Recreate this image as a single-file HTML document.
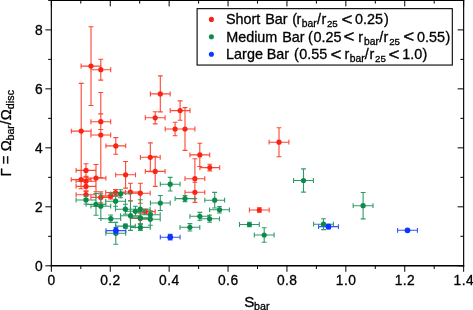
<!DOCTYPE html>
<html><head><meta charset="utf-8"><title>Gamma vs S_bar</title>
<style>
html,body{margin:0;padding:0;background:#fff;}
svg{display:block;}
svg{font-family:"Liberation Sans",Arial,Helvetica,sans-serif;font-size:14px;}
text{fill:#000;stroke:#000;stroke-width:0.3px;}
.sub{font-size:9.8px;}
</style></head>
<body>
<svg width="473" height="310" viewBox="0 0 473 310">
<rect width="473" height="310" fill="#fff"/>
<g id="points">
<path d="M81.1 66.1H100.9M91.0 26.7V105.5M81.1 63.6V68.5M100.9 63.6V68.5M88.5 26.7H93.5M88.5 105.5H93.5M90.9 69.7H110.7M100.8 59.3V80.1M90.9 67.2V72.2M110.7 67.2V72.2M98.3 59.3H103.2M98.3 80.1H103.2M71.3 131.1H91.1M81.2 83.4V178.8M71.3 128.7V133.5M91.1 128.7V133.5M78.8 83.4H83.7M78.8 178.8H83.7M90.9 121.7H110.7M100.8 113.9V129.5M90.9 119.2V124.2M110.7 119.2V124.2M98.3 113.9H103.2M98.3 129.5H103.2M90.9 135.0H110.7M100.8 92.5V177.5M90.9 132.6V137.4M110.7 132.6V137.4M98.3 92.5H103.2M98.3 177.5H103.2M105.9 145.9H125.7M115.8 137.6V154.2M105.9 143.5V148.3M125.7 143.5V148.3M113.3 137.6H118.2M113.3 154.2H118.2M115.7 174.8H135.5M125.6 161.5V188.1M115.7 172.4V177.2M135.5 172.4V177.2M123.1 161.5H128.0M123.1 188.1H128.0M76.1 170.4H95.9M86.0 163.7V177.1M76.1 168.0V172.8M95.9 168.0V172.8M83.5 163.7H88.5M83.5 177.1H88.5M71.2 179.6H91.0M81.1 170.4V188.8M71.2 177.2V182.0M91.0 177.2V182.0M78.6 170.4H83.5M78.6 188.8H83.5M76.1 181.2H95.9M86.0 176.2V186.2M76.1 178.8V183.6M95.9 178.8V183.6M83.5 176.2H88.5M83.5 186.2H88.5M86.1 178.1H105.9M96.0 164.5V191.7M86.1 175.7V180.5M105.9 175.7V180.5M93.5 164.5H98.5M93.5 191.7H98.5M76.1 186.4H95.9M86.0 181.4V191.4M76.1 184.0V188.8M95.9 184.0V188.8M83.5 181.4H88.5M83.5 191.4H88.5M76.1 194.7H95.9M86.0 190.7V198.7M76.1 192.2V197.1M95.9 192.2V197.1M83.5 190.7H88.5M83.5 198.7H88.5M90.9 197.4H110.7M100.8 191.9V202.9M90.9 195.0V199.8M110.7 195.0V199.8M98.3 191.9H103.2M98.3 202.9H103.2M100.8 195.9H120.6M110.7 192.9V198.9M100.8 193.5V198.3M120.6 193.5V198.3M108.2 192.9H113.2M108.2 198.9H113.2M105.7 192.5H125.5M115.6 189.5V195.5M105.7 190.1V194.9M125.5 190.1V194.9M113.1 189.5H118.0M113.1 195.5H118.0M120.5 192.0H140.3M130.4 183.3V200.7M120.5 189.6V194.4M140.3 189.6V194.4M128.0 183.3H132.8M128.0 200.7H132.8M130.4 193.2H150.2M140.3 183.2V203.2M130.4 190.8V195.6M150.2 190.8V195.6M137.9 183.2H142.8M137.9 203.2H142.8M135.4 211.6H155.2M145.3 209.1V214.1M135.4 209.2V214.0M155.2 209.2V214.0M142.9 209.1H147.8M142.9 214.1H147.8M130.4 218.4H150.2M140.3 213.1V223.7M130.4 216.0V220.8M150.2 216.0V220.8M137.9 213.1H142.8M137.9 223.7H142.8M140.4 157.3H160.2M150.3 142.9V171.7M140.4 154.9V159.8M160.2 154.9V159.8M147.9 142.9H152.8M147.9 171.7H152.8M145.3 171.4H165.1M155.2 156.4V186.4M145.3 169.0V173.8M165.1 169.0V173.8M152.8 156.4H157.6M152.8 186.4H157.6M145.3 117.8H165.1M155.2 111.7V123.9M145.3 115.3V120.2M165.1 115.3V120.2M152.8 111.7H157.6M152.8 123.9H157.6M165.2 129.0H185.0M175.1 122.2V135.8M165.2 126.5V131.4M185.0 126.5V131.4M172.7 122.2H177.5M172.7 135.8H177.5M170.2 110.6H190.0M180.1 100.9V120.3M170.2 108.1V113.0M190.0 108.1V113.0M177.7 100.9H182.5M177.7 120.3H182.5M150.4 93.9H170.2M160.3 75.9V111.9M150.4 91.5V96.4M170.2 91.5V96.4M157.9 75.9H162.8M157.9 111.9H162.8M175.1 129.0H194.9M185.0 107.6V150.4M175.1 126.5V131.4M194.9 126.5V131.4M182.6 107.6H187.4M182.6 150.4H187.4M189.9 154.9H209.7M199.8 143.3V166.5M189.9 152.5V157.3M209.7 152.5V157.3M197.4 143.3H202.2M197.4 166.5H202.2M199.9 167.6H219.7M209.8 164.3V170.9M199.9 165.2V170.0M219.7 165.2V170.0M207.4 164.3H212.2M207.4 170.9H212.2M185.0 178.7H204.8M194.9 158.8V198.6M185.0 176.2V181.1M204.8 176.2V181.1M192.5 158.8H197.3M192.5 198.6H197.3M185.0 192.3H204.8M194.9 182.2V202.4M185.0 189.9V194.8M204.8 189.9V194.8M192.5 182.2H197.3M192.5 202.4H197.3M269.1 142.2H288.9M279.0 127.7V156.7M269.1 139.8V144.6M288.9 139.8V144.6M276.6 127.7H281.4M276.6 156.7H281.4M249.4 210.0H269.2M259.3 207.7V212.3M249.4 207.6V212.4M269.2 207.6V212.4M256.9 207.7H261.8M256.9 212.3H261.8" stroke="#fd4634" stroke-width="1.1" fill="none"/>
<g fill="#fa2414"><circle cx="91.0" cy="66.1" r="2.6"/><circle cx="100.8" cy="69.7" r="2.6"/><circle cx="81.2" cy="131.1" r="2.6"/><circle cx="100.8" cy="121.7" r="2.6"/><circle cx="100.8" cy="135.0" r="2.6"/><circle cx="115.8" cy="145.9" r="2.6"/><circle cx="125.6" cy="174.8" r="2.6"/><circle cx="86.0" cy="170.4" r="2.6"/><circle cx="81.1" cy="179.6" r="2.6"/><circle cx="86.0" cy="181.2" r="2.6"/><circle cx="96.0" cy="178.1" r="2.6"/><circle cx="86.0" cy="186.4" r="2.6"/><circle cx="86.0" cy="194.7" r="2.6"/><circle cx="100.8" cy="197.4" r="2.6"/><circle cx="110.7" cy="195.9" r="2.6"/><circle cx="115.6" cy="192.5" r="2.6"/><circle cx="130.4" cy="192.0" r="2.6"/><circle cx="140.3" cy="193.2" r="2.6"/><circle cx="145.3" cy="211.6" r="2.6"/><circle cx="140.3" cy="218.4" r="2.6"/><circle cx="150.3" cy="157.3" r="2.6"/><circle cx="155.2" cy="171.4" r="2.6"/><circle cx="155.2" cy="117.8" r="2.6"/><circle cx="175.1" cy="129.0" r="2.6"/><circle cx="180.1" cy="110.6" r="2.6"/><circle cx="160.3" cy="93.9" r="2.6"/><circle cx="185.0" cy="129.0" r="2.6"/><circle cx="199.8" cy="154.9" r="2.6"/><circle cx="209.8" cy="167.6" r="2.6"/><circle cx="194.9" cy="178.7" r="2.6"/><circle cx="194.9" cy="192.3" r="2.6"/><circle cx="279.0" cy="142.2" r="2.6"/><circle cx="259.3" cy="210.0" r="2.6"/></g>
<path d="M76.1 200.0H95.9M86.0 196.0V204.0M76.1 197.6V202.4M95.9 197.6V202.4M83.5 196.0H88.5M83.5 204.0H88.5M86.1 204.4H105.9M96.0 193.5V215.3M86.1 202.0V206.8M105.9 202.0V206.8M93.5 193.5H98.5M93.5 215.3H98.5M90.9 206.2H110.7M100.8 193.9V218.5M90.9 203.8V208.6M110.7 203.8V208.6M98.3 193.9H103.2M98.3 218.5H103.2M110.7 193.8H130.5M120.6 189.8V197.8M110.7 191.4V196.2M130.5 191.4V196.2M118.1 189.8H123.0M118.1 197.8H123.0M105.7 201.2H125.5M115.6 196.2V206.2M105.7 198.8V203.6M125.5 198.8V203.6M113.1 196.2H118.0M113.1 206.2H118.0M115.5 209.2H135.3M125.4 204.2V214.2M115.5 206.8V211.6M135.3 206.8V211.6M123.0 204.2H127.9M123.0 214.2H127.9M120.6 215.7H140.4M130.5 201.0V230.4M120.6 213.2V218.1M140.4 213.2V218.1M128.1 201.0H132.9M128.1 230.4H132.9M100.9 218.7H120.7M110.8 215.0V222.4M100.9 216.2V221.1M120.7 216.2V221.1M108.3 215.0H113.2M108.3 222.4H113.2M115.5 226.1H135.3M125.4 224.1V228.1M115.5 223.7V228.5M135.3 223.7V228.5M123.0 224.1H127.9M123.0 228.1H127.9M105.9 233.3H125.7M115.8 222.4V244.2M105.9 230.9V235.8M125.7 230.9V235.8M113.3 222.4H118.2M113.3 244.2H118.2M150.4 203.0H170.2M160.3 195.5V210.5M150.4 200.6V205.4M170.2 200.6V205.4M157.9 195.5H162.8M157.9 210.5H162.8M125.5 211.3H145.3M135.4 206.3V216.3M125.5 208.9V213.8M145.3 208.9V213.8M133.0 206.3H137.8M133.0 216.3H137.8M130.4 209.2H150.2M140.3 199.7V218.7M130.4 206.8V211.6M150.2 206.8V211.6M137.9 199.7H142.8M137.9 218.7H142.8M130.4 217.9H150.2M140.3 211.9V223.9M130.4 215.5V220.3M150.2 215.5V220.3M137.9 211.9H142.8M137.9 223.9H142.8M140.4 214.7H160.2M150.3 210.7V218.7M140.4 212.2V217.1M160.2 212.2V217.1M147.9 210.7H152.8M147.9 218.7H152.8M140.4 219.2H160.2M150.3 213.2V225.2M140.4 216.8V221.6M160.2 216.8V221.6M147.9 213.2H152.8M147.9 225.2H152.8M160.3 184.2H180.1M170.2 177.4V191.0M160.3 181.8V186.6M180.1 181.8V186.6M167.8 177.4H172.6M167.8 191.0H172.6M175.1 198.6H194.9M185.0 195.6V201.6M175.1 196.2V201.0M194.9 196.2V201.0M182.6 195.6H187.4M182.6 201.6H187.4M204.8 200.2H224.6M214.7 192.4V208.0M204.8 197.8V202.6M224.6 197.8V202.6M212.2 192.4H217.1M212.2 208.0H217.1M209.6 209.8H229.4M219.5 206.6V213.0M209.6 207.4V212.2M229.4 207.4V212.2M217.1 206.6H221.9M217.1 213.0H221.9M189.9 216.3H209.7M199.8 212.4V220.2M189.9 213.9V218.8M209.7 213.9V218.8M197.4 212.4H202.2M197.4 220.2H202.2M199.7 218.8H219.5M209.6 215.3V222.3M199.7 216.4V221.2M219.5 216.4V221.2M207.2 215.3H212.0M207.2 222.3H212.0M180.0 227.3H199.8M189.9 223.6V231.0M180.0 224.9V229.8M199.8 224.9V229.8M187.5 223.6H192.3M187.5 231.0H192.3M130.5 227.4H150.3M140.4 224.4V230.4M130.5 225.0V229.8M150.3 225.0V229.8M138.0 224.4H142.8M138.0 230.4H142.8M293.6 180.5H313.4M303.5 168.9V192.1M293.6 178.1V182.9M313.4 178.1V182.9M301.1 168.9H305.9M301.1 192.1H305.9M239.5 224.5H259.3M249.4 222.2V226.8M239.5 222.1V226.9M259.3 222.1V226.9M247.0 222.2H251.8M247.0 226.8H251.8M254.3 235.0H274.1M264.2 227.8V242.2M254.3 232.6V237.4M274.1 232.6V237.4M261.8 227.8H266.6M261.8 242.2H266.6M313.6 224.2H333.4M323.5 218.8V229.6M313.6 221.8V226.6M333.4 221.8V226.6M321.1 218.8H325.9M321.1 229.6H325.9M353.2 205.7H373.0M363.1 192.5V218.9M353.2 203.2V208.1M373.0 203.2V208.1M360.7 192.5H365.6M360.7 218.9H365.6" stroke="#2e9a67" stroke-width="1.1" fill="none"/>
<g fill="#0b8a4c"><circle cx="86.0" cy="200.0" r="2.6"/><circle cx="96.0" cy="204.4" r="2.6"/><circle cx="100.8" cy="206.2" r="2.6"/><circle cx="120.6" cy="193.8" r="2.6"/><circle cx="115.6" cy="201.2" r="2.6"/><circle cx="125.4" cy="209.2" r="2.6"/><circle cx="130.5" cy="215.7" r="2.6"/><circle cx="110.8" cy="218.7" r="2.6"/><circle cx="125.4" cy="226.1" r="2.6"/><circle cx="115.8" cy="233.3" r="2.6"/><circle cx="160.3" cy="203.0" r="2.6"/><circle cx="135.4" cy="211.3" r="2.6"/><circle cx="140.3" cy="209.2" r="2.6"/><circle cx="140.3" cy="217.9" r="2.6"/><circle cx="150.3" cy="214.7" r="2.6"/><circle cx="150.3" cy="219.2" r="2.6"/><circle cx="170.2" cy="184.2" r="2.6"/><circle cx="185.0" cy="198.6" r="2.6"/><circle cx="214.7" cy="200.2" r="2.6"/><circle cx="219.5" cy="209.8" r="2.6"/><circle cx="199.8" cy="216.3" r="2.6"/><circle cx="209.6" cy="218.8" r="2.6"/><circle cx="189.9" cy="227.3" r="2.6"/><circle cx="140.4" cy="227.4" r="2.6"/><circle cx="303.5" cy="180.5" r="2.6"/><circle cx="249.4" cy="224.5" r="2.6"/><circle cx="264.2" cy="235.0" r="2.6"/><circle cx="323.5" cy="224.2" r="2.6"/><circle cx="363.1" cy="205.7" r="2.6"/></g>
<path d="M106.0 230.6H125.8M115.9 227.6V233.6M106.0 228.2V233.0M125.8 228.2V233.0M113.5 227.6H118.4M113.5 233.6H118.4M160.3 237.2H180.1M170.2 234.4V240.0M160.3 234.8V239.6M180.1 234.8V239.6M167.8 234.4H172.6M167.8 240.0H172.6M318.6 226.6H338.4M328.5 224.3V228.9M318.6 224.2V229.0M338.4 224.2V229.0M326.1 224.3H330.9M326.1 228.9H330.9M397.6 230.3H417.4M407.5 229.8V230.8M397.6 227.9V232.8M417.4 227.9V232.8M405.1 229.8H409.9M405.1 230.8H409.9" stroke="#3254ff" stroke-width="1.1" fill="none"/>
<g fill="#0a34ff"><circle cx="115.9" cy="230.6" r="2.9"/><circle cx="170.2" cy="237.2" r="2.9"/><circle cx="328.5" cy="226.6" r="2.9"/><circle cx="407.5" cy="230.3" r="2.9"/></g>
</g>
<path d="M51.35 265.8v6.0M51.35 0.4v6.0M80.80 265.8v3.2M80.80 0.4v3.2M110.25 265.8v6.0M110.25 0.4v6.0M139.70 265.8v3.2M139.70 0.4v3.2M169.15 265.8v6.0M169.15 0.4v6.0M198.60 265.8v3.2M198.60 0.4v3.2M228.05 265.8v6.0M228.05 0.4v6.0M257.50 265.8v3.2M257.50 0.4v3.2M286.95 265.8v6.0M286.95 0.4v6.0M316.40 265.8v3.2M316.40 0.4v3.2M345.85 265.8v6.0M345.85 0.4v6.0M375.30 265.8v3.2M375.30 0.4v3.2M404.75 265.8v6.0M404.75 0.4v6.0M434.20 265.8v3.2M434.20 0.4v3.2M463.65 265.8v6.0M463.65 0.4v6.0M51.35 265.80h-6.0M463.65 265.80h-6.0M51.35 236.31h-3.2M463.65 236.31h-3.2M51.35 206.82h-6.0M463.65 206.82h-6.0M51.35 177.33h-3.2M463.65 177.33h-3.2M51.35 147.84h-6.0M463.65 147.84h-6.0M51.35 118.35h-3.2M463.65 118.35h-3.2M51.35 88.86h-6.0M463.65 88.86h-6.0M51.35 59.37h-3.2M463.65 59.37h-3.2M51.35 29.88h-6.0M463.65 29.88h-6.0M51.35 0.39h-3.2M463.65 0.39h-3.2" stroke="#000" stroke-width="1" fill="none"/>
<path d="M51.35 0V266.50M463.65 0V266.50" stroke="#000" stroke-width="1.15" fill="none"/>
<path d="M50.80 265.8H464.20M50.80 0.35H464.20" stroke="#000" stroke-width="1.45" fill="none"/>
<g id="xticks" style="font-size:13.8px;letter-spacing:0.45px"><text x="51.57" y="285.1" text-anchor="middle">0</text><text x="110.47" y="285.1" text-anchor="middle">0.2</text><text x="169.37" y="285.1" text-anchor="middle">0.4</text><text x="228.27" y="285.1" text-anchor="middle">0.6</text><text x="287.17" y="285.1" text-anchor="middle">0.8</text><text x="346.07" y="285.1" text-anchor="middle">1.0</text><text x="404.97" y="285.1" text-anchor="middle">1.2</text><text x="463.87" y="285.1" text-anchor="middle">1.4</text></g>
<g id="yticks" style="font-size:13.8px"><text x="42.6" y="270.7" text-anchor="end">0</text><text x="42.6" y="211.7" text-anchor="end">2</text><text x="42.6" y="152.7" text-anchor="end">4</text><text x="42.6" y="93.8" text-anchor="end">6</text><text x="42.6" y="34.8" text-anchor="end">8</text></g>
<text x="244.36" y="306.7" style="font-size:15.2px">S</text><text x="254.04" y="310.0" style="font-size:10.7px">bar</text>
<text transform="translate(10.60,176.58) rotate(-90)" style="font-size:14.8px;letter-spacing:0px">Γ</text><text transform="translate(10.60,164.26) rotate(-90)" style="font-size:14.8px;letter-spacing:0px">=</text><text transform="translate(10.60,151.26) rotate(-90)" style="font-size:14.8px;letter-spacing:0px">Ω</text><text transform="translate(14.10,140.56) rotate(-90)" style="font-size:10.7px;letter-spacing:0px">bar</text><text transform="translate(10.60,124.80) rotate(-90)" style="font-size:14.8px;letter-spacing:0px">/</text><text transform="translate(10.60,120.26) rotate(-90)" style="font-size:14.8px;letter-spacing:0px">Ω</text><text transform="translate(14.10,109.30) rotate(-90)" style="font-size:10.7px;letter-spacing:0.12px">disc</text>
<g id="legend">
<rect x="197.1" y="8.65" width="255.2" height="56.4" fill="#fff" stroke="#000" stroke-width="1.1"/>
<circle cx="211.4" cy="19.4" r="2.55" fill="#f2241c"/>
<circle cx="211.4" cy="36.8" r="2.55" fill="#0b8c4c"/>
<circle cx="211.4" cy="54.2" r="2.55" fill="#0a3cff"/>
<text x="225.88" y="24.00" style="font-size:14.4px">Short</text><text x="265.18" y="24.00" style="font-size:14.4px">Bar</text><text x="292.32" y="24.00" style="font-size:14.4px">(</text><text x="296.40" y="24.00" style="font-size:14.4px">r</text><text x="301.76" y="27.40" style="font-size:10.3px">bar</text><text x="317.00" y="24.00" style="font-size:14.4px">/</text><text x="321.50" y="24.00" style="font-size:14.4px">r</text><text x="326.90" y="27.40" style="font-size:9.7px">25</text><text transform="translate(341.42,24.95) scale(1.3,1.1)" style="font-size:14.4px">&lt;</text><text x="355.08" y="24.00" style="font-size:14.4px">0.25</text><text x="383.98" y="24.00" style="font-size:14.4px">)</text>
<text x="226.18" y="41.50" style="font-size:14.4px">Medium</text><text x="282.28" y="41.50" style="font-size:14.4px">Bar</text><text x="308.12" y="41.50" style="font-size:14.4px">(</text><text x="313.38" y="41.50" style="font-size:14.4px">0.25</text><text transform="translate(343.62,42.45) scale(1.3,1.1)" style="font-size:14.4px">&lt;</text><text x="358.20" y="41.50" style="font-size:14.4px">r</text><text x="364.06" y="44.90" style="font-size:10.3px">bar</text><text x="379.20" y="41.50" style="font-size:14.4px">/</text><text x="383.60" y="41.50" style="font-size:14.4px">r</text><text x="389.20" y="44.90" style="font-size:9.7px">25</text><text transform="translate(403.32,42.45) scale(1.3,1.1)" style="font-size:14.4px">&lt;</text><text x="416.88" y="41.50" style="font-size:14.4px">0.55</text><text x="445.48" y="41.50" style="font-size:14.4px">)</text>
<text x="226.08" y="58.70" style="font-size:14.4px">Large</text><text x="266.68" y="58.70" style="font-size:14.4px">Bar</text><text x="294.12" y="58.70" style="font-size:14.4px">(</text><text x="299.28" y="58.70" style="font-size:14.4px">0.55</text><text transform="translate(330.52,59.65) scale(1.3,1.1)" style="font-size:14.4px">&lt;</text><text x="344.40" y="58.70" style="font-size:14.4px">r</text><text x="349.86" y="62.10" style="font-size:10.3px">bar</text><text x="364.70" y="58.70" style="font-size:14.4px">/</text><text x="369.40" y="58.70" style="font-size:14.4px">r</text><text x="375.00" y="62.10" style="font-size:9.7px">25</text><text transform="translate(388.42,59.65) scale(1.3,1.1)" style="font-size:14.4px">&lt;</text><text x="402.28" y="58.70" style="font-size:14.4px">1.0</text><text x="422.58" y="58.70" style="font-size:14.4px">)</text>
</g>
</svg>
</body></html>
